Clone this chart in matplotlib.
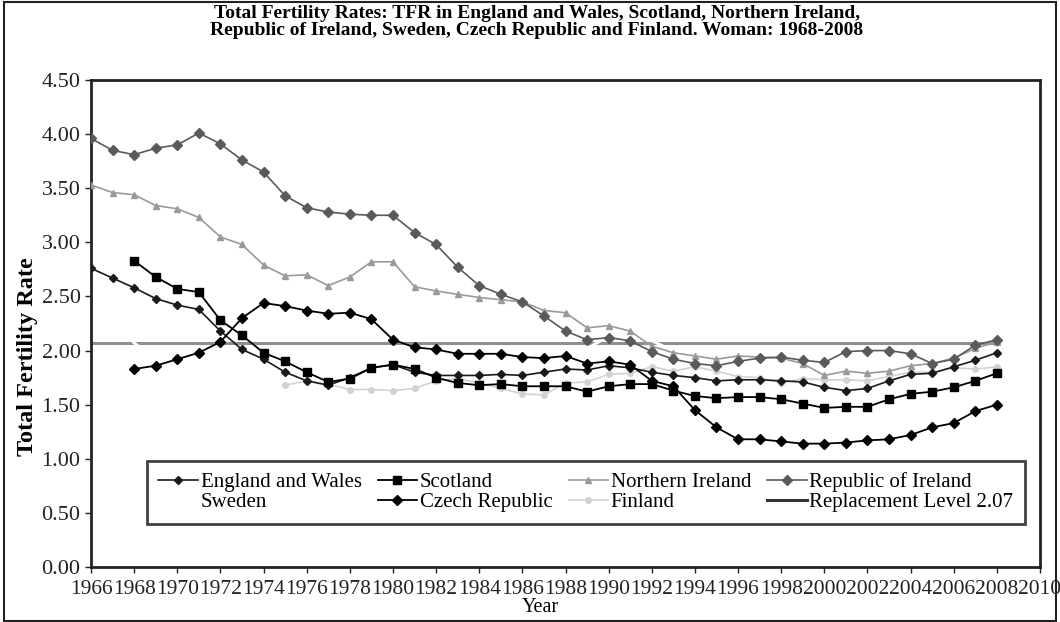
import matplotlib
matplotlib.use("Agg")
import matplotlib.pyplot as plt
from matplotlib.patches import Rectangle

plt.rcParams['font.family'] = ['Liberation Serif', 'DejaVu Serif']

years = list(range(1966, 2009))

england_wales = [2.76, 2.67, 2.58, 2.48, 2.42, 2.38, 2.18, 2.01, 1.92, 1.80,
                 1.72, 1.68, 1.75, 1.84, 1.87, 1.80, 1.77, 1.77, 1.77, 1.78,
                 1.77, 1.80, 1.83, 1.82, 1.86, 1.84, 1.80, 1.77, 1.75, 1.72,
                 1.73, 1.73, 1.72, 1.71, 1.66, 1.63, 1.65, 1.72, 1.78, 1.79,
                 1.85, 1.91, 1.98]

scotland_years = list(range(1968, 2009))
scotland = [2.83, 2.68, 2.57, 2.54, 2.28, 2.14, 1.98, 1.90, 1.80, 1.71,
            1.74, 1.84, 1.87, 1.83, 1.75, 1.70, 1.68, 1.69, 1.67, 1.67,
            1.67, 1.62, 1.67, 1.69, 1.69, 1.63, 1.58, 1.56, 1.57, 1.57,
            1.55, 1.51, 1.47, 1.48, 1.48, 1.55, 1.60, 1.62, 1.66, 1.72,
            1.79]

northern_ireland = [3.53, 3.46, 3.44, 3.34, 3.31, 3.23, 3.05, 2.98, 2.79, 2.69,
                    2.70, 2.60, 2.68, 2.82, 2.82, 2.59, 2.55, 2.52, 2.49, 2.47,
                    2.45, 2.37, 2.35, 2.21, 2.23, 2.18, 2.04, 1.98, 1.95, 1.92,
                    1.95, 1.94, 1.93, 1.88, 1.77, 1.81, 1.79, 1.81, 1.86, 1.88,
                    1.93, 2.02, 2.08]

republic_ireland = [3.96, 3.85, 3.81, 3.87, 3.90, 4.01, 3.91, 3.76, 3.65, 3.43,
                    3.32, 3.28, 3.26, 3.25, 3.25, 3.09, 2.98, 2.77, 2.60, 2.52,
                    2.45, 2.32, 2.18, 2.10, 2.12, 2.09, 1.99, 1.92, 1.88, 1.86,
                    1.90, 1.93, 1.94, 1.91, 1.89, 1.99, 2.00, 2.00, 1.97, 1.88,
                    1.92, 2.05, 2.10]

sweden = [2.42, 2.28, 2.07, 1.93, 1.92, 1.98, 1.93, 1.87, 1.89, 1.78,
          1.68, 1.65, 1.60, 1.66, 1.68, 1.63, 1.62, 1.61, 1.65, 1.73,
          1.79, 1.84, 1.96, 2.02, 2.13, 2.11, 2.09, 2.00, 1.88, 1.73,
          1.60, 1.52, 1.50, 1.50, 1.54, 1.57, 1.65, 1.71, 1.75, 1.77,
          1.85, 1.88, 1.91]

czech_years = list(range(1968, 2009))
czech = [1.83, 1.86, 1.92, 1.98, 2.08, 2.30, 2.44, 2.41, 2.37, 2.34,
         2.35, 2.29, 2.10, 2.03, 2.01, 1.97, 1.97, 1.97, 1.94, 1.93,
         1.95, 1.88, 1.90, 1.87, 1.72, 1.67, 1.45, 1.29, 1.18, 1.18,
         1.16, 1.14, 1.14, 1.15, 1.17, 1.18, 1.22, 1.29, 1.33, 1.44,
         1.50]

finland_years = list(range(1975, 2009))
finland = [1.68, 1.72, 1.69, 1.64, 1.64, 1.63, 1.65, 1.72, 1.74, 1.70,
           1.65, 1.60, 1.59, 1.70, 1.71, 1.78, 1.79, 1.85, 1.81, 1.85,
           1.81, 1.76, 1.75, 1.70, 1.74, 1.73, 1.73, 1.72, 1.76, 1.80,
           1.80, 1.84, 1.83, 1.85]

replacement_level = 2.07
x_ticks = list(range(1966, 2011, 2))
y_ticks = [0.0, 0.5, 1.0, 1.5, 2.0, 2.5, 3.0, 3.5, 4.0, 4.5]

fig = plt.figure(figsize=(10.6, 6.22), dpi=100)
ax = fig.add_axes([91 / 1060, 1 - 567 / 622, 949 / 1060, 487 / 622])

h_rep, = ax.plot([years[0], years[-1]], [replacement_level] * 2,
                 color='#8f8f8f', lw=2.2, zorder=2,
                 label='Replacement Level 2.07')
h_swe, = ax.plot(years, sweden, color='white', lw=2.0, zorder=2.5,
                 label='Sweden')
h_fin, = ax.plot(finland_years, finland, color='#d2d2d2', lw=1.2,
                 marker='o', ms=4, zorder=2.6, label='Finland')
h_ni, = ax.plot(years, northern_ireland, color='#9a9a9a', lw=1.2,
                marker='^', ms=5, zorder=3, label='Northern Ireland')
h_roi, = ax.plot(years, republic_ireland, color='#5a5a5a', lw=1.2,
                 marker='D', ms=5, zorder=3, label='Republic of Ireland')
h_ew, = ax.plot(years, england_wales, color='#1a1a1a', lw=1.2,
                marker='D', ms=4, zorder=4, label='England and Wales')
h_sco, = ax.plot(scotland_years, scotland, color='black', lw=1.3,
                 marker='s', ms=6, zorder=4, label='Scotland')
h_cz, = ax.plot(czech_years, czech, color='black', lw=1.3,
                marker='D', ms=5, zorder=4, label='Czech Republic')

ax.set_xlim(1966, 2010)
ax.set_ylim(0, 4.5)
ax.set_xticks(x_ticks)
ax.set_xticklabels([str(t) for t in x_ticks])
ax.set_yticks(y_ticks)
ax.set_yticklabels([f'{t:.2f}' for t in y_ticks])
ax.tick_params(axis='both', direction='out', length=4, width=1,
               colors='#222222')
ax.tick_params(axis='y', labelsize=16)
ax.tick_params(axis='x', labelsize=15.5, pad=5)
for sp in ax.spines.values():
    sp.set_linewidth(2)
    sp.set_color('#222222')

leg = ax.legend([h_ew, h_swe, h_sco, h_cz, h_ni, h_fin, h_roi, h_rep],
                ['England and Wales', 'Sweden', 'Scotland', 'Czech Republic',
                 'Northern Ireland', 'Finland', 'Republic of Ireland',
                 'Replacement Level 2.07'],
                ncol=4, loc='center', mode='expand',
                bbox_to_anchor=(0.059, 0.082, 0.925, 0.142),
                borderaxespad=0.0,
                fontsize=15, frameon=True, fancybox=False,
                handlelength=1.9, handletextpad=0.12, labelspacing=0.02,
                borderpad=0.55, columnspacing=0.5)
leg.get_frame().set_edgecolor('#111111')
leg.get_frame().set_linewidth(2)
leg.legend_handles[7].set_color('#333333')

fig.text(537 / 1060, 1 - 22 / 622,
         'Total Fertility Rates: TFR in England and Wales, Scotland, Northern Ireland,\n'
         'Republic of Ireland, Sweden, Czech Republic and Finland. Woman: 1968-2008',
         ha='center', va='center', fontsize=14, fontweight='bold',
         linespacing=1.05)
fig.text(28 / 1060, 1 - 357 / 622, 'Total Fertility Rate', rotation=90,
         ha='center', va='center', fontsize=17.5, fontweight='bold')
fig.text(540 / 1060, 1 - 607 / 622, 'Year', ha='center', va='center',
         fontsize=14.5)

fig.patches.append(Rectangle((4 / 1060, 1 / 622), 1052 / 1060, 619 / 622,
                             transform=fig.transFigure, fill=False,
                             edgecolor='#222222', lw=1.5))

fig.savefig('out.png', dpi=100)
